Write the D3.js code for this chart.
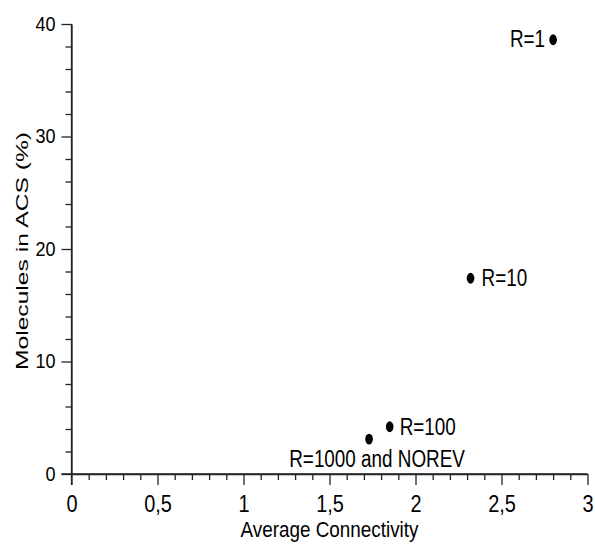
<!DOCTYPE html>
<html>
<head>
<meta charset="utf-8">
<script src="https://cdn.jsdelivr.net/npm/d3@7"></script>
<style>
  body { margin: 0; background: #fff; }
  text { font-family: "Liberation Sans", Arial, sans-serif; fill: #000; }
</style>
</head>
<body>
<div id="chart"></div>
<script>
const labels = ["R=1", "R=10", "R=100", "R=1000 and NOREV"];
const connectivity = [2.80, 2.32, 1.85, 1.73];
const acsPercent = [38.6, 17.4, 4.2, 3.1];
const xTicks = [0, 0.5, 1, 1.5, 2, 2.5, 3];
const yTicks = [0, 10, 20, 30, 40];

const width = 595, height = 544;

const svg = d3.select("#chart").append("svg")
    .attr("width", width)
    .attr("height", height);

svg.append("rect").attr("width", width).attr("height", height).attr("fill", "#fff");

const x = d3.scaleLinear().domain([0, 3]).range([71.5, 587.5]);
const y = d3.scaleLinear().domain([0, 40]).range([474, 24]);

// squeeze text horizontally, the source font is narrow
function squeeze(sel, k) {
    sel.each(function() {
        const w = this.getComputedTextLength();
        d3.select(this).attr("textLength", w * k).attr("lengthAdjust", "spacingAndGlyphs");
    });
}

function styleAxis(g) {
    g.select(".domain").attr("stroke", "#222").attr("stroke-width", 1.3);
    g.selectAll(".tick line").attr("stroke", "#222").attr("stroke-width", 1.3);
}

// minor ticks
const xMinor = d3.range(0, 3.0001, 0.1).filter(v => Math.abs(v * 2 - Math.round(v * 2)) > 1e-6);
const yMinor = d3.range(0, 40.001, 2).filter(v => v % 10 !== 0);

svg.append("g")
    .attr("transform", "translate(0," + y(0) + ")")
    .call(d3.axisBottom(x).tickValues(xMinor).tickSize(6).tickSizeOuter(0).tickFormat(""))
    .call(styleAxis);

svg.append("g")
    .attr("transform", "translate(" + x(0) + ",0)")
    .call(d3.axisLeft(y).tickValues(yMinor).tickSize(6).tickSizeOuter(0).tickFormat(""))
    .call(styleAxis);

// major ticks + labels
const xAxis = svg.append("g")
    .attr("transform", "translate(0," + y(0) + ")")
    .call(d3.axisBottom(x).tickValues(xTicks).tickSize(11).tickSizeOuter(0).tickPadding(10)
        .tickFormat(d => String(d).replace(".", ",")))
    .call(styleAxis);
xAxis.select(".domain").attr("d", "M" + (x(0) - 10) + ",0H" + x(3));
xAxis.selectAll("text").attr("font-size", 24).attr("font-family", null).attr("fill", "#000").call(squeeze, 0.83);

const yAxis = svg.append("g")
    .attr("transform", "translate(" + x(0) + ",0)")
    .call(d3.axisLeft(y).tickValues(yTicks).tickSize(10).tickSizeOuter(0).tickPadding(6))
    .call(styleAxis);
yAxis.select(".domain").attr("d", "M0," + y(40) + "V" + (y(0) + 11));
yAxis.selectAll("text").attr("font-size", 20).attr("font-family", null).attr("fill", "#000").call(squeeze, 0.9);

// axis titles
svg.append("text")
    .attr("x", (x(0) + x(3)) / 2)
    .attr("y", 537)
    .attr("text-anchor", "middle")
    .attr("font-size", 22)
    .attr("textLength", 178)
    .attr("lengthAdjust", "spacingAndGlyphs")
    .text("Average Connectivity");

svg.append("text")
    .attr("transform", "translate(28," + 251 + ") rotate(-90)")
    .attr("text-anchor", "middle")
    .attr("font-size", 17)
    .attr("textLength", 238)
    .attr("lengthAdjust", "spacingAndGlyphs")
    .text("Molecules in ACS (%)");

// points
const points = labels.map((l, i) => ({ label: l, cx: connectivity[i], cy: acsPercent[i] }));

svg.selectAll(".pt")
    .data(points)
    .enter().append("ellipse")
    .attr("class", "pt")
    .attr("cx", d => x(d.cx))
    .attr("cy", d => y(d.cy))
    .attr("rx", 3.8)
    .attr("ry", 5.4)
    .attr("fill", "#000");

// label placement relative to each point
const labelPos = [
    { dx: -8, dy: 7, anchor: "end" },
    { dx: 11, dy: 8, anchor: "start" },
    { dx: 10, dy: 8, anchor: "start" },
    { dx: 8, dy: 28, anchor: "middle" }
];

svg.selectAll(".lbl")
    .data(points)
    .enter().append("text")
    .attr("class", "lbl")
    .attr("x", (d, i) => x(d.cx) + labelPos[i].dx)
    .attr("y", (d, i) => y(d.cy) + labelPos[i].dy)
    .attr("text-anchor", (d, i) => labelPos[i].anchor)
    .attr("font-size", 23)
    .text(d => d.label)
    .call(squeeze, 0.82);
</script>
</body>
</html>
